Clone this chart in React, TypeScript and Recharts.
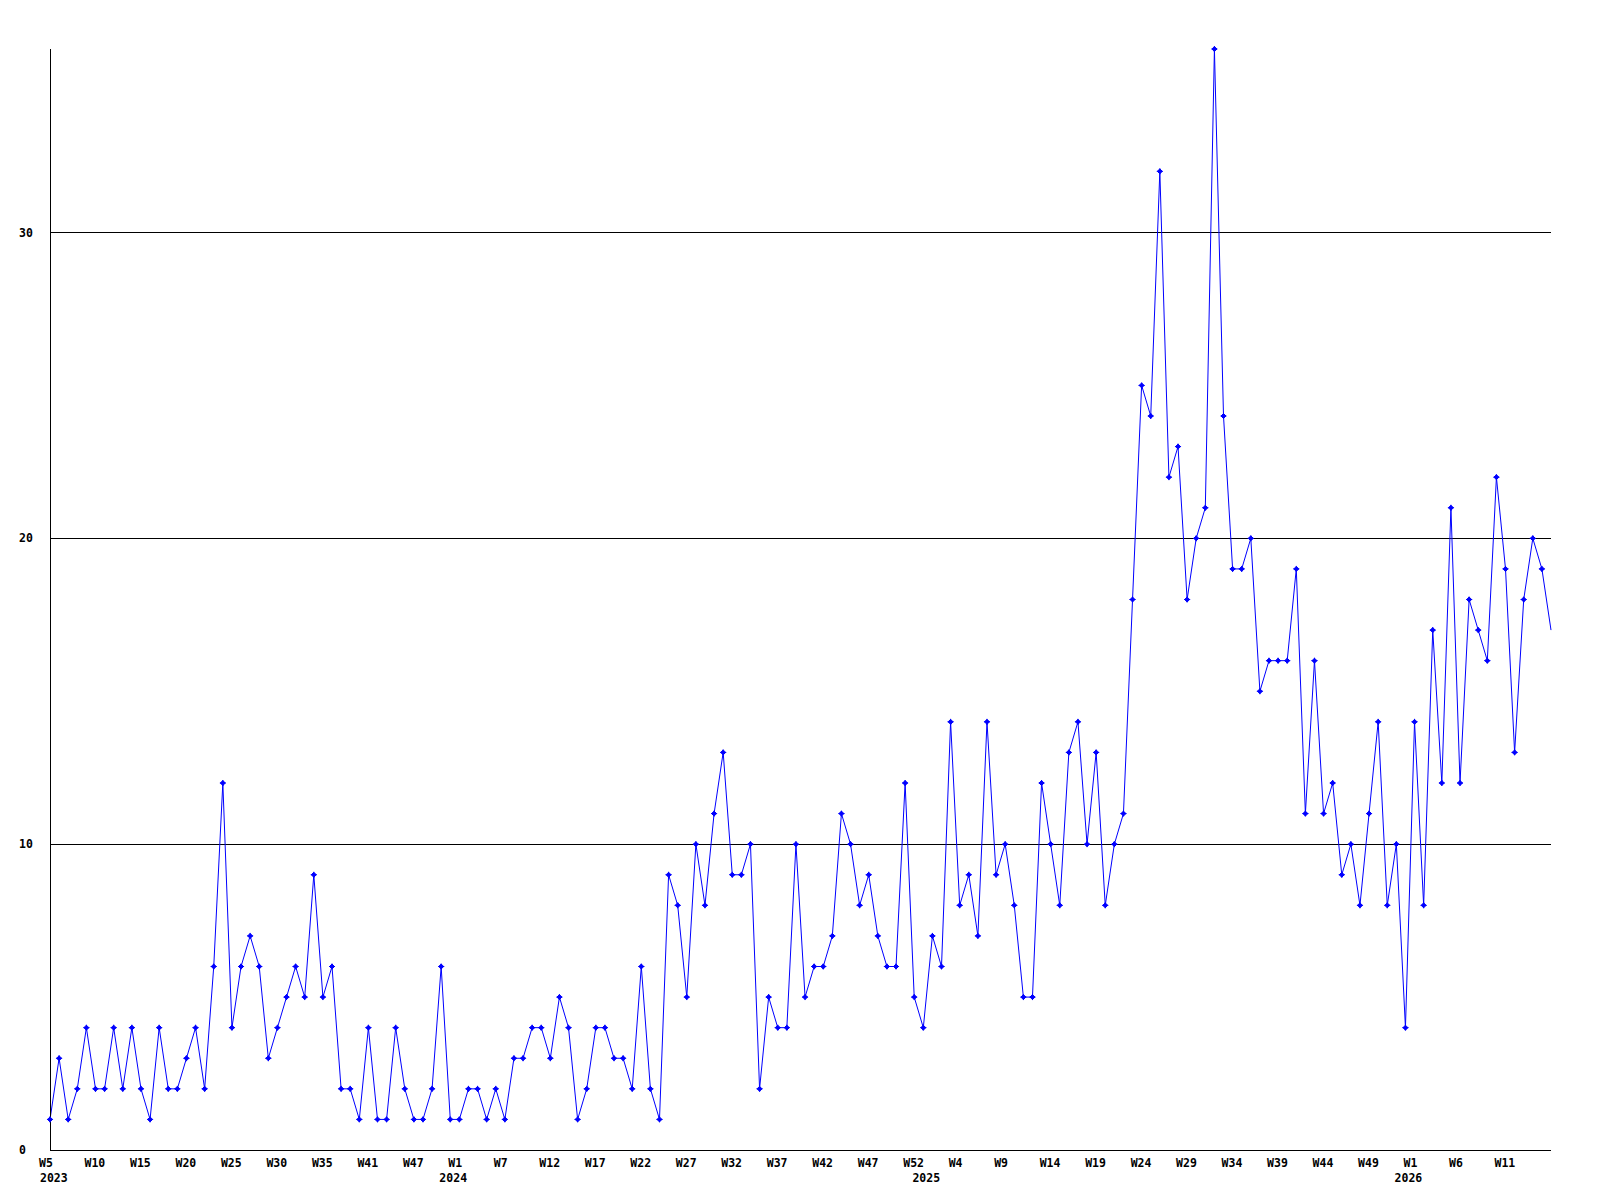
import React from "react";
import { LineChart, Line, XAxis, YAxis, ReferenceLine } from "recharts";

// weekly counts, one entry per reported week (weeks with no data are absent)
const weeks2023 = [5, 6, 7, 8, 9, 10, 11, 12, 13, 14, 15, 16, 17, 18, 19, 20, 21, 22, 23, 24, 25, 26, 27, 28, 29, 30, 31, 32, 33, 34, 35, 36, 37, 39, 40, 41, 42, 43, 45, 46, 47, 48, 49, 51, 52];
const counts2023 = [1, 3, 1, 2, 4, 2, 2, 4, 2, 4, 2, 1, 4, 2, 2, 3, 4, 2, 6, 12, 4, 6, 7, 6, 3, 4, 5, 6, 5, 9, 5, 6, 2, 2, 1, 4, 1, 1, 4, 2, 1, 1, 2, 6, 1];

const weeks2024 = [1, 2, 3, 5, 6, 7, 8, 9, 10, 11, 12, 13, 14, 15, 16, 17, 18, 19, 20, 21, 22, 23, 24, 25, 26, 27, 28, 29, 30, 31, 32, 33, 34, 35, 36, 37, 38, 39, 40, 41, 42, 43, 44, 45, 46, 47, 48, 49, 50, 51, 52, 1];
const counts2024 = [1, 2, 2, 1, 2, 1, 3, 3, 4, 4, 3, 5, 4, 1, 2, 4, 4, 3, 3, 2, 6, 2, 1, 9, 8, 5, 10, 8, 11, 13, 9, 9, 10, 2, 5, 4, 4, 10, 5, 6, 6, 7, 11, 10, 8, 9, 7, 6, 6, 12, 5, 4];

const weeks2025 = [1, 2, 3, 4, 5, 6, 7, 8, 9, 10, 11, 12, 13, 14, 15, 16, 17, 18, 19, 20, 21, 22, 23, 24, 25, 26, 27, 28, 29, 30, 31, 32, 33, 34, 35, 36, 37, 38, 39, 40, 41, 42, 43, 44, 45, 46, 47, 48, 49, 50, 51, 52, 1];
const counts2025 = [7, 6, 14, 8, 9, 7, 14, 9, 10, 8, 5, 5, 12, 10, 8, 13, 14, 10, 13, 8, 10, 11, 18, 25, 24, 32, 22, 23, 18, 20, 21, 36, 24, 19, 19, 20, 15, 16, 16, 16, 19, 11, 16, 11, 12, 9, 10, 8, 11, 14, 8, 10, 4];

const weeks2026 = [1, 2, 3, 4, 5, 6, 7, 8, 9, 10, 11, 12, 13, 14, 15, 16];
const counts2026 = [14, 8, 17, 12, 21, 12, 18, 17, 16, 22, 19, 13, 18, 20, 19, 17];

const yTicks = [0, 10, 20, 30];
const gridValues = [10, 20, 30];

const segments = [
  { year: "2023", weeks: weeks2023, counts: counts2023 },
  { year: "2024", weeks: weeks2024, counts: counts2024 },
  { year: "2025", weeks: weeks2025, counts: counts2025 },
  { year: "2026", weeks: weeks2026, counts: counts2026 },
];

const rows = segments
  .flatMap((s) =>
    s.weeks.map((w, k) => ({ week: "W" + w, year: s.year, yearStart: k === 0, count: s.counts[k] }))
  )
  .map((r, i) => ({ ...r, i }));

const last = rows.length - 1;
const xTicks = rows.filter((r) => (r.i % 5 === 0 && r.i < last) || r.yearStart).map((r) => r.i);

const FONT = '"DejaVu Sans Mono", monospace';

const XTick = ({ x, y, payload }: any) => {
  const r = rows[payload.value];
  const showWeek = r.i % 5 === 0;
  return (
    <g>
      {showWeek && (
        <text x={x - 11} y={y + 17} textAnchor="start" fontFamily={FONT} fontWeight="bold" fontSize={11.5} fill="#000">
          {r.week}
        </text>
      )}
      {r.yearStart && (
        <text
          x={r.i === 0 ? x - 10 : x - 20}
          y={y + 32}
          textAnchor="start"
          fontFamily={FONT}
          fontWeight="bold"
          fontSize={11.5}
          fill="#000"
        >
          {r.year}
        </text>
      )}
    </g>
  );
};

const YTick = ({ y, payload }: any) => (
  <text x={19} y={y + 4} textAnchor="start" fontFamily={FONT} fontWeight="bold" fontSize={11.5} fill="#000">
    {payload.value}
  </text>
);

const Marker = (props: any) => {
  const { cx, cy, index } = props;
  if (index === last) return <g key={`m${index}`} />;
  return (
    <path
      key={`m${index}`}
      d={`M${cx - 2.5},${cy}L${cx},${cy - 2.5}L${cx + 2.5},${cy}L${cx},${cy + 2.5}Z M${cx - 3},${cy}H${cx + 3} M${cx},${cy - 3}V${cy + 3}`}
      fill="#0000ff"
      stroke="#0000ff"
      strokeWidth={1}
    />
  );
};

export default function App() {
  return (
    <div style={{ position: "absolute", left: 0, top: 0, width: 1600, height: 1200, background: "#fff" }}>
      <LineChart width={1600} height={1200} data={rows} margin={{ top: 49, right: 49, bottom: 0, left: 10 }}>
        <XAxis
          dataKey="i"
          type="number"
          domain={[0, last]}
          ticks={xTicks}
          interval={0}
          height={50}
          tickSize={0}
          tickMargin={0}
          tickLine={false}
          axisLine={{ stroke: "#000", strokeWidth: 1, shapeRendering: "crispEdges" }}
          tick={<XTick />}
        />
        <YAxis
          domain={[0, 36]}
          ticks={yTicks}
          width={40}
          tickSize={0}
          tickMargin={0}
          tickLine={false}
          axisLine={{ stroke: "#000", strokeWidth: 1, shapeRendering: "crispEdges" }}
          tick={<YTick />}
        />
        {gridValues.map((v) => (
          <ReferenceLine key={v} y={v} stroke="#000" strokeWidth={1} shapeRendering="crispEdges" />
        ))}
        <Line
          type="linear"
          dataKey="count"
          stroke="#0000ff"
          strokeWidth={1}
          dot={Marker}
          activeDot={false}
          isAnimationActive={false}
        />
      </LineChart>
    </div>
  );
}
